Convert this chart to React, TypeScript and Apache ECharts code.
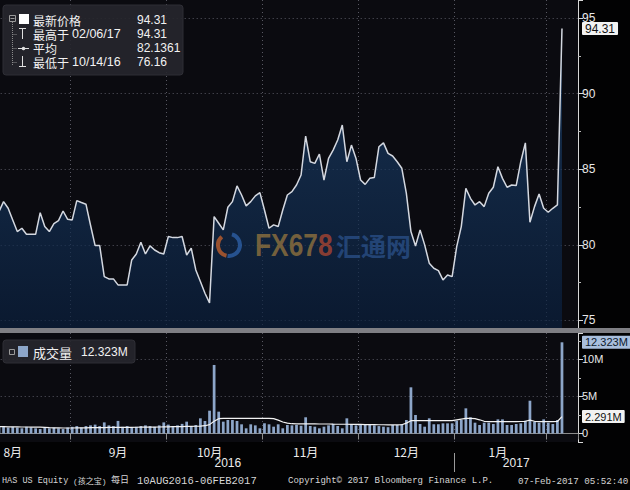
import React, { useEffect, useRef } from "react";
import * as echarts from "echarts";

// ---- category slots: trading days of HAS, plus 3 empty slots after the last day ----
const FIRST_DAY = "2016-08-10";
const LAST_SLOT = "2017-02-09";
const MARKET_HOLIDAYS = ["2016-09-05", "2016-11-24", "2016-12-26", "2017-01-02", "2017-01-16"];

// ---- closing price (USD), 10 Aug 2016 .. 06 Feb 2017 ----
const PRICE = [
  82.2, 82.86, 82.42, 81.65, 80.88, 81.1, 80.7, 80.7, 80.7, 82.13,
  81.21, 80.88, 81.4, 81.6, 82.24, 81.69, 81.65, 82.93, 82.8, 82.69,
  81.3, 79.95, 79.95, 77.9, 77.75, 77.75, 77.35, 77.35, 77.35, 79.0,
  79.4, 80.17, 79.4, 79.93, 79.66, 79.48, 79.4, 80.55, 80.48, 80.48,
  80.55, 79.33, 79.78, 78.34, 77.57, 76.8, 76.16, 81.87, 81.43, 80.99,
  82.49, 82.86, 83.9, 83.3, 82.58, 82.86, 83.24, 83.46, 82.31, 81.1,
  81.32, 81.21, 82.31, 83.3, 83.52, 83.96, 84.62, 87.2, 85.5, 85.39,
  86.01, 84.29, 85.72, 86.27, 86.94, 87.93, 85.5, 86.6, 85.72, 84.29,
  84.0, 84.4, 84.46, 86.49, 86.75, 86.05, 85.88, 85.5, 85.07, 83.41,
  80.88, 79.93, 80.99, 80.0, 78.79, 78.45, 78.3, 77.68, 78.01, 77.9,
  79.88, 81.21, 83.74, 83.08, 82.64, 82.86, 82.53, 83.41, 83.81, 85.17,
  84.4, 83.81, 83.96, 83.92, 85.5, 86.75, 81.5, 82.53, 83.37, 82.42,
  82.16, 82.42, 82.64, 94.31,
];

// ---- daily volume (millions of shares) ----
const VOLUME = [
  0.9, 1.0, 0.8, 0.9, 0.8, 0.7, 0.9, 0.8, 0.7, 0.6, 0.8, 0.7, 0.8, 0.7, 0.6, 0.8,
  0.9, 1.0, 0.8, 1.0, 1.1, 1.2, 1.0, 1.5, 1.1, 1.0, 1.7, 0.9, 1.0, 0.8, 0.9, 1.0, 1.1, 1.0, 0.9, 1.1, 1.5,
  1.2, 1.0, 1.1, 1.3, 1.6,
  1.0, 1.15, 2.05, 1.69, 3.08, 9.26, 2.95, 1.6, 1.82, 1.82, 1.69, 1.24, 0.7, 1.24, 1.1, 0.7,
  1.38, 1.24, 0.92, 1.24, 0.7, 1.15, 1.1, 1.15, 1.05, 2.19, 1.01, 0.92, 0.7, 0.92, 1.1, 1.3,
  1.01, 0.7, 2.05, 1.24, 1.1, 1.2, 1.15, 1.24, 1.1, 1.0,
  0.92, 0.85, 1.15, 1.15, 1.28, 1.82, 6.24, 2.5, 1.28, 0.92, 2.05, 1.25, 1.25, 1.37, 1.37, 1.37,
  1.73, 1.82, 3.4, 2.19, 1.46, 1.15, 1.46, 1.46, 1.28, 1.91, 1.91, 1.15, 1.15, 1.28, 1.37, 1.73,
  4.43, 1.6, 1.46, 1.91, 1.46, 1.28, 1.82, 12.323,
];

// ---- volume average line (millions) ----
const VOLUME_AVG = [
  0.92, 0.92, 0.9, 0.9, 0.9, 0.88, 0.88, 0.86, 0.85, 0.85, 0.82,
  0.78, 0.76, 0.75, 0.74, 0.74, 0.74, 0.75, 0.75, 0.76, 0.78, 0.8, 0.8, 0.8, 0.82, 0.82, 0.82, 0.83, 0.83, 0.83, 0.84,
  0.85, 0.86, 0.86, 0.87, 0.88, 0.9, 0.9, 0.92, 0.92, 0.94, 0.95, 0.95, 0.98, 1.0, 1.05,
  1.2, 1.65, 2.0, 2.05, 2.05, 2.05, 2.05, 2.05, 2.05, 2.05, 2.05, 2.05, 2.05, 2.05, 2.0, 1.8, 1.55, 1.4,
  1.32, 1.3, 1.3, 1.3, 1.3, 1.3, 1.28, 1.28, 1.28, 1.26, 1.25, 1.25, 1.25, 1.24, 1.22, 1.22, 1.2, 1.2, 1.2, 1.18, 1.18, 1.16, 1.16, 1.16, 1.18,
  1.4, 1.73, 1.73, 1.73, 1.73, 1.73, 1.73, 1.73, 1.73, 1.73, 1.75, 1.85, 1.95, 2.05, 2.05, 2.0,
  1.85, 1.65, 1.6, 1.6, 1.6, 1.6, 1.6, 1.6, 1.6, 1.62, 1.65, 1.8, 1.65, 1.6, 1.6, 1.6, 1.6, 1.62, 2.291,
];

// ---- axis labels ----
const MONTH_LABELS: [string, string][] = [
  ["2016-08-15", "8月"], ["2016-09-16", "9月"], ["2016-10-14", "10月"],
  ["2016-11-14", "11月"], ["2016-12-15", "12月"], ["2017-01-17", "1月"],
];
const YEAR_LABELS: [string, string][] = [["2016-10-20", "2016"], ["2017-01-23", "2017"]];

// ---- legend / footer texts ----
const PRICE_LEGEND_NAMES = ["最新价格", "最高于", "平均", "最低于"];
const PRICE_LEGEND_DATES = ["", "02/06/17", "", "10/14/16"];
const PRICE_LEGEND_VALUES = ["94.31", "94.31", "82.1361", "76.16"];
const VOLUME_LEGEND = ["成交量", "12.323M"];
const FOOTER = ["HAS US Equity", "(孩之宝)", "每日", "10AUG2016-06FEB2017", "Copyright© 2017 Bloomberg Finance L.P.", "07-Feb-2017 05:52:40"];

function buildSlots(): string[] {
  const out: string[] = [];
  const d = new Date(FIRST_DAY + "T00:00:00Z");
  const end = new Date(LAST_SLOT + "T00:00:00Z");
  while (d <= end) {
    const wd = d.getUTCDay();
    const s = d.toISOString().slice(0, 10);
    if (wd !== 0 && wd !== 6 && !MARKET_HOLIDAYS.includes(s)) out.push(s);
    d.setUTCDate(d.getUTCDate() + 1);
  }
  return out;
}

const DATES = buildSlots();
const MONTH_STARTS = new Set<number>();
let YEAR_START = -1;
DATES.forEach((d, i) => {
  if (i > 0 && d.slice(5, 7) !== DATES[i - 1].slice(5, 7)) MONTH_STARTS.add(i);
  if (i > 0 && d.slice(0, 4) !== DATES[i - 1].slice(0, 4)) YEAR_START = i;
});
const monthMap = new Map(MONTH_LABELS);
const yearMap = new Map(YEAR_LABELS);

const LATIN = '"Liberation Sans", Arial, sans-serif';
const CJK = '"Noto Sans CJK SC", "Liberation Sans", sans-serif';
const MONO = '"Liberation Mono", "Noto Sans CJK SC", monospace';

const dotted = { color: "#585862", width: 1, type: [1, 3] as any };
const isMonthStart = (i: number) => MONTH_STARTS.has(i);

function badge(bg: string, fg: string, fontSize: number, fmt: (v: number) => string) {
  return {
    silent: true,
    precision: 3,
    symbol: ["none", "none"],
    lineStyle: { color: "rgba(0,0,0,0)", width: 0 },
    label: {
      show: true,
      position: "end",
      distance: 4,
      formatter: (p: any) => fmt(Number(p.value)),
      backgroundColor: bg,
      color: fg,
      padding: [1, 3, 0, 3],
      lineHeight: 12,
      fontSize,
      fontFamily: LATIN,
      borderRadius: 1,
    },
    emphasis: { disabled: true },
  };
}

function buildOption(): any {
  const lastPrice = PRICE[PRICE.length - 1];
  const lastVol = VOLUME[VOLUME.length - 1];
  const lastAvg = VOLUME_AVG[VOLUME_AVG.length - 1];
  return {
    animation: false,
    backgroundColor: "#020203",
    textStyle: { fontFamily: LATIN },
    grid: [
      { left: -3.3, right: 52, top: 0, height: 328, show: true, backgroundColor: "#0b0b10", borderWidth: 0, outerBoundsMode: "none" },
      { left: -3.3, right: 52, top: 333, height: 109, show: true, backgroundColor: "#0b0b10", borderWidth: 0, outerBoundsMode: "none" },
    ],
    xAxis: [
      {
        type: "category", gridIndex: 0, data: DATES, boundaryGap: true,
        axisLine: { show: false }, axisTick: { show: false }, axisLabel: { show: false },
        splitLine: { show: true, interval: isMonthStart, lineStyle: dotted },
      },
      {
        type: "category", gridIndex: 1, data: DATES, boundaryGap: true,
        axisLine: { show: true, lineStyle: { color: "#8c8c8c", width: 1 } },
        axisTick: { show: true, interval: isMonthStart, length: 6, lineStyle: { color: "#8c8c8c" } },
        axisLabel: {
          show: true, interval: (_i: number, v: string) => monthMap.has(v),
          formatter: (v: string) => monthMap.get(v) ?? "",
          color: "#ececec", fontSize: 12, margin: 3, fontFamily: CJK,
        },
        splitLine: { show: true, interval: isMonthStart, lineStyle: dotted },
      },
      {
        type: "category", gridIndex: 1, data: DATES, boundaryGap: true, position: "bottom", offset: 11,
        axisLine: { show: false }, axisTick: { show: false }, splitLine: { show: false },
        axisLabel: {
          show: true, interval: (_i: number, v: string) => yearMap.has(v),
          formatter: (v: string) => yearMap.get(v) ?? "",
          color: "#ececec", fontSize: 12, margin: 4, fontFamily: LATIN,
        },
      },
    ],
    yAxis: [
      {
        type: "value", gridIndex: 0, position: "right", min: 74.5, max: 96.2, splitNumber: 4, scale: true,
        axisLine: { show: true, lineStyle: { color: "#d8d8d8", width: 1 } },
        axisTick: { show: true, length: 5, lineStyle: { color: "#d8d8d8" } },
        minorTick: { show: true, splitNumber: 2, length: 3, lineStyle: { color: "#bbbbbb" } },
        axisLabel: { color: "#e8e8e8", fontSize: 12, lineHeight: 10, margin: 4, showMinLabel: false, showMaxLabel: false },
        splitLine: { show: true, lineStyle: dotted, showMinLine: false, showMaxLine: false },
      },
      {
        type: "value", gridIndex: 1, position: "right", min: -1.15, max: 13.58, splitNumber: 3,
        axisLine: { show: true, lineStyle: { color: "#d8d8d8", width: 1 } },
        axisTick: { show: true, length: 5, lineStyle: { color: "#d8d8d8" } },
        minorTick: { show: true, splitNumber: 2, length: 3, lineStyle: { color: "#bbbbbb" } },
        axisLabel: {
          color: "#e8e8e8", fontSize: 11, lineHeight: 10, margin: 4, showMinLabel: false, showMaxLabel: false,
          formatter: (v: number) => (v === 0 ? "0" : v + "M"),
        },
        splitLine: { show: true, lineStyle: dotted, showMinLine: false, showMaxLine: false },
      },
    ],
    series: [
      {
        type: "line", name: "最新价格", xAxisIndex: 0, yAxisIndex: 0, data: PRICE,
        showSymbol: false, symbol: "none",
        lineStyle: { color: "#d4d8e0", width: 1.5 },
        areaStyle: {
          origin: "start",
          color: new echarts.graphic.LinearGradient(0, 0, 0, 1, [
            { offset: 0, color: "#1e4470" },
            { offset: 1, color: "#0a1f3d" },
          ]),
        },
        markLine: { ...badge("#f2f2f2", "#111111", 12, (v) => v.toFixed(2)), data: [{ yAxis: lastPrice }] },
        z: 3,
      },
      {
        type: "bar", name: "成交量", xAxisIndex: 1, yAxisIndex: 1, data: VOLUME,
        barWidth: "60%", itemStyle: { color: "#8da6c9" },
        markLine: { ...badge("#a9bfdd", "#0d1a2e", 11, (v) => v.toFixed(3) + "M"), data: [{ yAxis: lastVol }] },
      },
      {
        type: "line", name: "均量", xAxisIndex: 1, yAxisIndex: 1, data: VOLUME_AVG,
        showSymbol: false, symbol: "none",
        lineStyle: { color: "#f2f2f2", width: 1.2 },
        markLine: { ...badge("#f2f2f2", "#111111", 11, (v) => v.toFixed(3) + "M"), data: [{ yAxis: lastAvg }] },
        z: 4,
      },
    ],
  };
}

function buildGraphics(sepX: number): any[] {
  const rowY = [20, 34, 48, 62];
  const g: any[] = [];
  // panel separator
  g.push({ type: "rect", shape: { x: 0, y: 328, width: 630, height: 5 }, style: { fill: "#7f7f84" }, z: 5 });
  // year separator
  g.push({ type: "line", shape: { x1: sepX, y1: 453, x2: sepX, y2: 472 }, style: { stroke: "#9a9a9a", lineWidth: 1 }, z: 5 });

  // watermark
  g.push({ type: "arc", shape: { cx: 229, cy: 245, r: 11, startAngle: -1.3, endAngle: 1.7 }, style: { stroke: "rgba(45,95,165,0.8)", lineWidth: 4, fill: "none" }, z: 6 });
  g.push({ type: "arc", shape: { cx: 229, cy: 245, r: 11, startAngle: 1.8, endAngle: 4.0 }, style: { stroke: "rgba(190,95,45,0.8)", lineWidth: 4, fill: "none" }, z: 6 });
  g.push({
    type: "text", x: 255, y: 245, scaleX: 0.85, z: 6,
    style: {
      text: "{a|FX67}{b|8}", textVerticalAlign: "middle",
      rich: {
        a: { font: 'bold 31px "Liberation Sans"', fill: "rgba(150,118,62,0.75)", color: "rgba(150,118,62,0.75)" },
        b: { font: 'bold 31px "Liberation Sans"', fill: "rgba(170,70,50,0.8)", color: "rgba(170,70,50,0.8)" },
      },
    },
  });
  g.push({ type: "text", x: 336, y: 245, z: 6, style: { text: "汇通网", font: 'bold 25px "Noto Sans CJK SC"', fill: "rgba(45,85,145,0.7)", textVerticalAlign: "middle" } });

  // price legend box
  g.push({ type: "rect", shape: { x: 3, y: 5, width: 180, height: 70, r: 3 }, style: { fill: "rgba(38,38,44,0.92)", stroke: "#2e2e35" }, z: 10 });
  g.push({ type: "rect", shape: { x: 9.5, y: 15.5, width: 6, height: 6 }, style: { fill: "none", stroke: "#9a9a9a", lineWidth: 1 }, z: 11 });
  g.push({ type: "line", shape: { x1: 10.5, y1: 18.5, x2: 14.5, y2: 18.5 }, style: { stroke: "#9a9a9a", lineWidth: 1 }, z: 11 });
  g.push({ type: "rect", shape: { x: 19, y: 14, width: 10, height: 10 }, style: { fill: "#ffffff" }, z: 11 });
  g.push({ type: "line", shape: { x1: 12.5, y1: 22, x2: 12.5, y2: 66 }, style: { stroke: "#8a8a8a", lineWidth: 1, lineDash: [1, 1] }, z: 11 });
  [34, 48, 62].forEach((y) => {
    g.push({ type: "line", shape: { x1: 12.5, y1: y + 0.5, x2: 17, y2: y + 0.5 }, style: { stroke: "#8a8a8a", lineWidth: 1, lineDash: [1, 1] }, z: 11 });
  });
  // glyphs: high (T), average (-+-), low (⊥)
  g.push({ type: "line", shape: { x1: 19, y1: 28.5, x2: 26, y2: 28.5 }, style: { stroke: "#e0e0e0", lineWidth: 1 }, z: 11 });
  g.push({ type: "line", shape: { x1: 22.5, y1: 28.5, x2: 22.5, y2: 39 }, style: { stroke: "#e0e0e0", lineWidth: 1 }, z: 11 });
  g.push({ type: "line", shape: { x1: 18, y1: 48.5, x2: 29, y2: 48.5 }, style: { stroke: "#e0e0e0", lineWidth: 1 }, z: 11 });
  g.push({ type: "circle", shape: { cx: 23.5, cy: 48.5, r: 1.8 }, style: { fill: "#e0e0e0" }, z: 11 });
  g.push({ type: "line", shape: { x1: 22.5, y1: 56, x2: 22.5, y2: 66.5 }, style: { stroke: "#e0e0e0", lineWidth: 1 }, z: 11 });
  g.push({ type: "line", shape: { x1: 19, y1: 66.5, x2: 26, y2: 66.5 }, style: { stroke: "#e0e0e0", lineWidth: 1 }, z: 11 });
  PRICE_LEGEND_NAMES.forEach((name, i) => {
    g.push({ type: "text", x: 33, y: rowY[i], z: 11, style: { text: name, font: '12px "Noto Sans CJK SC"', lineHeight: 13, fill: "#f2f2f2", textVerticalAlign: "middle" } });
    if (PRICE_LEGEND_DATES[i]) {
      g.push({ type: "text", x: 72, y: rowY[i], z: 11, style: { text: PRICE_LEGEND_DATES[i], font: '12.5px "Liberation Sans"', lineHeight: 13, fill: "#f2f2f2", textVerticalAlign: "middle" } });
    }
    g.push({ type: "text", x: 137, y: rowY[i], z: 11, style: { text: PRICE_LEGEND_VALUES[i], font: '12px "Liberation Sans"', lineHeight: 13, fill: "#f2f2f2", textVerticalAlign: "middle" } });
  });

  // volume legend box
  g.push({ type: "rect", shape: { x: 3, y: 340, width: 132, height: 23, r: 3 }, style: { fill: "rgba(38,38,44,0.92)", stroke: "#2e2e35" }, z: 10 });
  g.push({ type: "rect", shape: { x: 9.5, y: 349.5, width: 5, height: 5 }, style: { fill: "none", stroke: "#9a9a9a", lineWidth: 1 }, z: 11 });
  g.push({ type: "rect", shape: { x: 18, y: 346, width: 10, height: 11 }, style: { fill: "#8da6c9" }, z: 11 });
  g.push({ type: "text", x: 33, y: 352, z: 11, style: { text: VOLUME_LEGEND[0], font: '13px "Noto Sans CJK SC"', lineHeight: 14, fill: "#f2f2f2", textVerticalAlign: "middle" } });
  g.push({ type: "text", x: 81, y: 352, z: 11, style: { text: VOLUME_LEGEND[1], font: '12px "Liberation Sans"', lineHeight: 14, fill: "#f2f2f2", textVerticalAlign: "middle" } });

  // footer
  const footerX = [2, 73, 111, 137, 288, 518];
  const footerSize = [8.5, 8, 9, 10.5, 9, 9.2];
  FOOTER.forEach((t, i) => {
    g.push({ type: "text", x: footerX[i], y: 481, z: 11, style: { text: t, font: `${footerSize[i]}px ${MONO}`, fill: "#d6d6d6", textVerticalAlign: "middle" } });
  });
  return g;
}

export default function App() {
  const ref = useRef<HTMLDivElement>(null);
  useEffect(() => {
    if (!ref.current) return;
    const chart = echarts.init(ref.current, undefined, { renderer: "svg" });
    chart.setOption(buildOption());
    const xa = chart.convertToPixel({ xAxisIndex: 1 }, DATES[YEAR_START]) as unknown as number;
    const xb = chart.convertToPixel({ xAxisIndex: 1 }, DATES[YEAR_START - 1]) as unknown as number;
    const sepX = Math.round((xa + xb) / 2) + 0.5;
    chart.setOption({ graphic: buildGraphics(sepX) });
    return () => chart.dispose();
  }, []);
  return <div ref={ref} style={{ position: "absolute", left: 0, top: 0, width: 630, height: 490 }} />;
}
